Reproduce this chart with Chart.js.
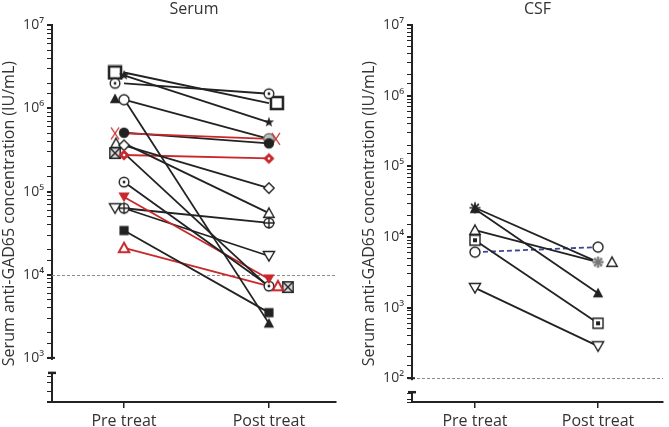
<!DOCTYPE html>
<html lang="en">
<head>
  <meta charset="UTF-8">
  <title>Anti-GAD65 – Serum and CSF</title>
  <script src="https://cdn.jsdelivr.net/npm/chart.js"></script>
  <style>
    body {
      margin: 0;
      background: #fff;
      width: 669px;
      height: 427px;
      position: relative;
      overflow: hidden;
    }
    .panel {
      position: absolute;
      top: 0;
    }
    #serumBox { left: 0; }
    #csfBox { left: 360px; }
  </style>
</head>
<body>
  <div class="panel" id="serumBox"><canvas id="serum" width="342" height="427"></canvas></div>
  <div class="panel" id="csfBox"><canvas id="csf" width="309" height="427"></canvas></div>
  <script>
    const groups = ['Pre treat', 'Post treat'];
    const yTitle = 'Serum anti-GAD65 concentration (IU/mL)';
    const decadeLabels = ['10²', '10³', '10⁴', '10⁵', '10⁶', '10⁷'];

    // serum, one entry per patient
    const serumPre  = [2.7e6, 2.5e6, 2.0e6, 1.3e6, 1.27e6, 5.0e5, 5.1e5, 3.8e5, 3.6e5, 2.9e5, 2.75e5, 1.3e5, 8.6e4, 6.3e4, 6.3e4, 3.4e4, 2.1e4];
    const serumPost = [1.16e6, 6.8e5, 1.5e6, 2.6e3, 4.3e5, 4.3e5, 3.8e5, 5.5e4, 1.1e5, 7.1e3, 2.5e5, 7.3e3, 8.9e3, 1.68e4, 4.2e4, 3.5e3, 7.3e3];

    // CSF, one entry per patient
    const csfPre  = [2.6e4, 2.5e4, 1.25e4, 9.0e3, 6.1e3, 1.9e3];
    const csfPost = [4.4e3, 1.6e3, 4.4e3, 600, 7.2e3, 284];

    // styles
    const serumMarkPre  = ['sq', 'star', 'cdot', 'tf', 'c', 'x', 'cf', 't', 'd', 'bx', 'df', 'cdot', 'tdf', 'td', 'cp', 'sf', 't'];
    const serumMarkPost = ['sq', 'star', 'cdot', 'tf', 'cg', 'x', 'cf', 't', 'd', 'bx', 'df', 'cdot', 'tdf', 'td', 'cp', 'sf', 't'];
    const serumTone = ['k', 'k', 'k', 'k', 'k', 'r', 'k', 'k', 'k', 'k', 'r', 'k', 'r', 'k', 'k', 'k', 'r'];
    const serumShiftPre  = [-9, 0, -9, -9, 0, -9, 0, -8, 0, -9, 0, 0, 0, -9, 0, 0, 0];
    const serumShiftPost = [8, 0, 0, 0, 0, 7, 0, 0, 0, 19, 0, 0, 0, 0, 0, 0, 9];

    const csfMarkPre  = ['ast', 'tf', 't', 'sd', 'c', 'td'];
    const csfMarkPost = ['astg', 'tf', 't', 'sd', 'c', 'td'];
    const csfTone = ['k', 'k', 'k', 'k', 'b', 'k'];
    const csfShiftPre  = [0, 0, 0, 0, 0, 0];
    const csfShiftPost = [0, 0, 14, 0, 0, 0];

    const tones = { k: '#222', r: '#c8282c', b: '#3c4596' };
    const INK = '#333';

    Chart.defaults.font.family = "'Open Sans', 'DejaVu Sans', sans-serif";
    Chart.defaults.color = INK;

    // draws one symbol into a small canvas; a shift moves it off the line end
    function marker(type, color, shift) {
      const s = 16;
      const w = s + 2 * Math.abs(shift);
      const c = document.createElement('canvas');
      c.width = w; c.height = s;
      const g = c.getContext('2d');
      g.translate(w / 2 + shift, s / 2);
      g.strokeStyle = color; g.fillStyle = color; g.lineWidth = 1.4;
      const poly = (pts) => { g.beginPath(); pts.forEach((p, i) => i ? g.lineTo(p[0], p[1]) : g.moveTo(p[0], p[1])); g.closePath(); };
      const circle = (r) => { g.beginPath(); g.arc(0, 0, r, 0, Math.PI * 2); };
      const open = () => { g.fillStyle = '#fff'; g.fill(); g.stroke(); };
      switch (type) {
        case 'sq': g.lineWidth = 2.5; g.beginPath(); g.rect(-6, -6, 12, 12); open(); break;
        case 'star': {
          const pts = [];
          for (let i = 0; i < 10; i++) {
            const r = i % 2 ? 2.2 : 5.4, a = -Math.PI / 2 + i * Math.PI / 5;
            pts.push([r * Math.cos(a), r * Math.sin(a)]);
          }
          poly(pts); g.fill(); break;
        }
        case 'cdot': circle(4.8); open(); g.fillStyle = color; circle(1.4); g.fill(); break;
        case 'tf': poly([[0, -5.5], [5.2, 4.2], [-5.2, 4.2]]); g.fill(); break;
        case 't':
          if (color !== tones.k) g.lineWidth = 2;
          poly([[0, -5.2], [5.2, 4.2], [-5.2, 4.2]]); open(); break;
        case 'c': circle(5); open(); break;
        case 'cg': circle(5.2); g.fillStyle = '#bdbdbd'; g.fill(); g.strokeStyle = '#777'; g.stroke(); break;
        case 'x':
          g.lineWidth = 1.3; g.beginPath();
          g.moveTo(-4, -6); g.lineTo(4, 6); g.moveTo(4, -6); g.lineTo(-4, 6); g.stroke(); break;
        case 'cf': circle(5.2); g.fill(); break;
        case 'd': poly([[0, -5.2], [5.2, 0], [0, 5.2], [-5.2, 0]]); open(); break;
        case 'df':
          poly([[0, -5.6], [5.6, 0], [0, 5.6], [-5.6, 0]]); g.fill();
          g.fillStyle = '#fff'; circle(1.3); g.fill(); break;
        case 'bx':
          g.beginPath(); g.rect(-5.2, -5.2, 10.4, 10.4); g.fillStyle = '#d9d9d9'; g.fill(); g.stroke();
          g.beginPath(); g.moveTo(-5.2, -5.2); g.lineTo(5.2, 5.2); g.moveTo(5.2, -5.2); g.lineTo(-5.2, 5.2); g.stroke(); break;
        case 'tdf': poly([[-5.6, -4.5], [5.6, -4.5], [0, 5.2]]); g.fill(); break;
        case 'td': poly([[-5.6, -4.5], [5.6, -4.5], [0, 5.2]]); open(); break;
        case 'cp':
          circle(4.8); open();
          g.beginPath(); g.moveTo(-5.8, 0); g.lineTo(5.8, 0); g.moveTo(0, -5.8); g.lineTo(0, 5.8); g.stroke(); break;
        case 'sf': g.beginPath(); g.rect(-4.6, -4.6, 9.2, 9.2); g.fill(); break;
        case 'sd':
          g.beginPath(); g.rect(-5, -5, 10, 10); open();
          g.fillStyle = color; g.fillRect(-2, -2, 4, 4); break;
        case 'ast':
        case 'astg': {
          if (type === 'astg') {
            circle(5.5); g.fillStyle = '#c4c4c4'; g.fill();
            g.strokeStyle = '#777';
          }
          g.lineWidth = 1.6; g.beginPath();
          for (let i = 0; i < 4; i++) {
            const a = i * Math.PI / 4;
            g.moveTo(-5.5 * Math.cos(a), -5.5 * Math.sin(a));
            g.lineTo(5.5 * Math.cos(a), 5.5 * Math.sin(a));
          }
          g.stroke(); break;
        }
      }
      return c;
    }

    function buildDatasets(pre, post, mPre, mPost, tone, sPre, sPost) {
      const sets = pre.map((v, i) => ({
        data: [{ x: 0, y: v }, { x: 1, y: post[i] }],
        borderColor: tones[tone[i]],
        borderWidth: 1.8,
        borderDash: tone[i] === 'b' ? [5, 3] : [],
        pointRadius: 0,
        fill: false
      }));
      // symbols are black even on the dashed blue line
      const ink = (t) => (t === 'r' ? tones.r : tones.k);
      const pts = [], styles = [];
      pre.forEach((v, i) => { pts.push({ x: 0, y: v }); styles.push(marker(mPre[i], ink(tone[i]), sPre[i])); });
      post.forEach((v, i) => { pts.push({ x: 1, y: v }); styles.push(marker(mPost[i], ink(tone[i]), sPost[i])); });
      sets.push({ data: pts, showLine: false, pointStyle: styles, pointRadius: 5, order: -1 });
      return sets;
    }

    // dashed cut-off line and the broken piece at the bottom of the y axis
    const axisBreak = {
      id: 'axisBreak',
      beforeDatasetsDraw(chart, args, o) {
        const { ctx, chartArea: a, scales: { y } } = chart;
        const py = Math.round(y.getPixelForValue(o.cutoff)) + 0.5;
        ctx.save();
        ctx.strokeStyle = '#8c8c8c'; ctx.lineWidth = 1; ctx.setLineDash([3, 2]);
        ctx.beginPath(); ctx.moveTo(a.left, py); ctx.lineTo(a.right, py); ctx.stroke();
        ctx.restore();
      },
      afterDraw(chart, args, o) {
        const { ctx, scales: { y } } = chart;
        const ax = y.right;
        const end = y.getPixelForValue(o.breakAt);
        const cap = end + o.gap;
        ctx.save();
        ctx.fillStyle = '#fff';
        ctx.fillRect(ax - 10, end + 2, 15, cap - end - 3);
        ctx.strokeStyle = '#222'; ctx.lineWidth = 2.5;
        ctx.beginPath(); ctx.moveTo(ax - 4, cap); ctx.lineTo(ax + 4, cap); ctx.stroke();
        ctx.lineWidth = 2;
        ctx.beginPath(); ctx.moveTo(ax - 4, end); ctx.lineTo(ax + 3, end); ctx.stroke();
        ctx.restore();
      }
    };

    function isDecade(v) {
      const e = Math.log10(v);
      return Math.abs(e - Math.round(e)) < 1e-9;
    }

    function makeChart(id, title, datasets, xMin, xMax, yMin, cutoff, breakAt, gap) {
      return new Chart(document.getElementById(id), {
        type: 'line',
        data: { datasets },
        plugins: [axisBreak],
        options: {
          responsive: false,
          animation: false,
          layout: { padding: { top: 0, right: 0, bottom: 0, left: 0 } },
          plugins: {
            legend: { display: false },
            tooltip: { enabled: false },
            title: {
              display: true, text: title, fullSize: false, color: INK,
              font: { size: 16, weight: 'normal' }, padding: { top: 0, bottom: 6 }
            },
            axisBreak: { cutoff, breakAt, gap }
          },
          scales: {
            x: {
              type: 'linear',
              min: xMin,
              max: xMax,
              afterBuildTicks: (s) => { s.ticks = groups.map((g, i) => ({ value: i })); },
              grid: { drawOnChartArea: false, drawTicks: true, tickLength: 6, color: '#222', lineWidth: 1.5 },
              border: { color: '#222', width: 2 },
              ticks: { color: INK, font: { size: 16 }, padding: 4, maxRotation: 0, autoSkip: false,
                       callback: (v) => groups[v] },
              afterFit: (s) => { s.height = 25; }
            },
            y: {
              type: 'logarithmic',
              min: yMin,
              max: 1e7,
              grid: {
                drawOnChartArea: false, drawTicks: true, tickLength: 5, color: '#222',
                lineWidth: (c) => (c.tick && isDecade(c.tick.value) ? 2 : 1)
              },
              border: { color: '#222', width: 2 },
              ticks: {
                color: INK, font: { size: 14 }, padding: 3, autoSkip: false,
                callback: (v) => (isDecade(v) ? decadeLabels[Math.round(Math.log10(v)) - 2] || '' : '')
              },
              title: { display: true, text: yTitle, color: INK, font: { size: 16 }, padding: { top: 0, bottom: 0 } },
              afterFit: (s) => { s.width = 52; }
            }
          }
        }
      });
    }

    makeChart('serum', 'Serum',
      buildDatasets(serumPre, serumPost, serumMarkPre, serumMarkPost, serumTone, serumShiftPre, serumShiftPost),
      -0.497, 1.463, 295, 1e4, 1e3, 15);

    makeChart('csf', 'CSF',
      buildDatasets(csfPre, csfPost, csfMarkPre, csfMarkPost, csfTone, csfShiftPre, csfShiftPost),
      -0.512, 1.528, 46, 1e2, 1e2, 14);
  </script>
</body>
</html>
